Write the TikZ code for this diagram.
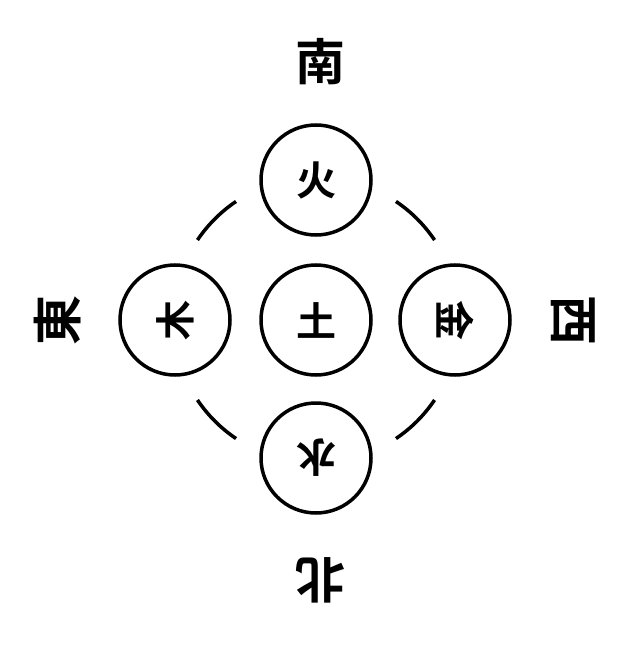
\documentclass[tikz,border=0pt]{standalone}
\usepackage{fontspec}
\newfontfamily\cjkb{Noto Sans CJK SC Bold}
\newfontfamily\cjk{Noto Sans CJK SC}
\begin{document}
\begin{tikzpicture}[x=1pt,y=-1pt,
  el/.style={circle,draw,line width=3.5pt,minimum size=110pt,inner sep=0pt,font=\cjkb\fontsize{40}{40}\selectfont},
  dir/.style={font=\cjkb\fontsize{50}{50}\selectfont,inner sep=0pt}]
\useasboundingbox[fill=white] (0,0) rectangle (640,647);
\node[el] (huo) at (316,180) {火};
\node[el] (mu) at (175,320) {\rotatebox{90}{木}};
\node[el] (tu) at (316,320) {土};
\node[el] (jin) at (455,320) {\rotatebox{-90}{金}};
\node[el] (shui) at (316,458) {\rotatebox{180}{水}};
\node[dir] (nan) at (320,62) {南};
\node[dir] (dong) at (58,320) {\rotatebox{90}{東}};
\node[dir] (xi) at (573,320) {\rotatebox{-90}{西}};
\node[dir] (bei) at (320,580) {\rotatebox{180}{北}};
\coordinate (c) at (316,320);
\foreach \a in {34,124,214,304}
  \draw[line width=3.5pt] (c) ++(\a:143) arc[start angle=\a, end angle=\a+22, radius=143];
\end{tikzpicture}
\end{document}
